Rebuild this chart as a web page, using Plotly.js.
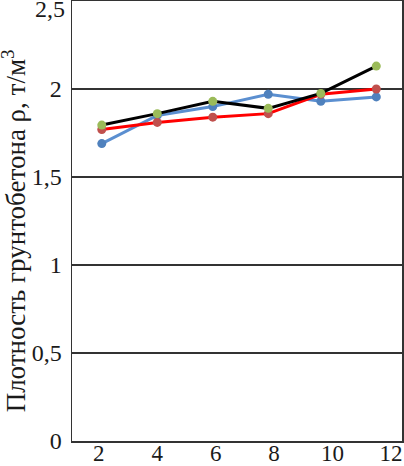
<!DOCTYPE html>
<html>
<head>
<meta charset="utf-8">
<script src="https://cdn.plot.ly/plotly-3.0.1.min.js"></script>
<style>
  html, body { margin: 0; padding: 0; background: #fff; }
  #plot { width: 404px; height: 466px; }
</style>
</head>
<body>
<div id="plot"></div>
<script>
// x positions of the points
let xVals = [2.1, 4, 5.9, 7.8, 9.6, 11.5];

// density series, t/m3
let blueVals = [1.69, 1.85, 1.90, 1.97, 1.93, 1.955];
let redVals = [1.77, 1.81, 1.84, 1.86, 1.97, 2.0];
let blackVals = [1.795, 1.86, 1.93, 1.89, 1.975, 2.13];

let xTicks = [2, 4, 6, 8, 10, 12];
let yTicks = [0, 0.5, 1, 1.5, 2];
let yTopTick = 2.5;

// blue series
let trace1 = {
    x: xVals,
    y: blueVals,
    mode: "lines+markers",
    line: {color: "#5b8fd0", width: 3},
    marker: {color: "#4f81bd", size: 9},
    showlegend: false
};

// red series
let trace2 = {
    x: xVals,
    y: redVals,
    mode: "lines+markers",
    line: {color: "#ff0000", width: 3},
    marker: {color: "#c0504d", size: 9},
    showlegend: false
};

// black series with green markers
let trace3 = {
    x: xVals,
    y: blackVals,
    mode: "lines+markers",
    line: {color: "#000000", width: 3},
    marker: {color: "#9bbb59", size: 9},
    showlegend: false
};

let data = [trace1, trace2, trace3];

let serif = "Liberation Serif, Times New Roman, serif";

let layout = {
    width: 404,
    height: 466,
    margin: {l: 72, r: 2, t: 1, b: 25},
    paper_bgcolor: "#ffffff",
    plot_bgcolor: "#ffffff",
    separators: ", ",
    font: {family: serif, color: "#1a1a1a", size: 24},
    xaxis: {
        range: [1.08, 12.38],
        tickvals: xTicks,
        showgrid: false,
        zeroline: false,
        showline: true,
        mirror: true,
        linecolor: "#333",
        linewidth: 1.5,
        ticks: "",
        ticklabelstandoff: -9,
        tickfont: {size: 23}
    },
    yaxis: {
        range: [0, 2.5],
        tickvals: yTicks,
        showgrid: true,
        gridcolor: "#333",
        gridwidth: 1.5,
        zeroline: false,
        showline: true,
        mirror: true,
        linecolor: "#333",
        linewidth: 1.5,
        ticks: "",
        ticklabelstandoff: 4,
        tickfont: {size: 24}
    },
    annotations: [
        {
            // top tick label sits just under the frame
            text: "2,5",
            xref: "paper", yref: "y",
            x: 0, y: yTopTick,
            xanchor: "right", yanchor: "top",
            xshift: -5, yshift: 7,
            showarrow: false,
            font: {family: serif, size: 24, color: "#1a1a1a"}
        },
        {
            // y-axis title
            text: "Плотность грунтобетона ρ, т/м<sup>3</sup>",
            xref: "paper", yref: "paper",
            x: -0.175, y: 0.477,
            xanchor: "center", yanchor: "middle",
            textangle: -90,
            showarrow: false,
            font: {family: serif, size: 27, color: "#1a1a1a"}
        }
    ]
};

Plotly.newPlot("plot", data, layout, {displayModeBar: false, staticPlot: true});
</script>
</body>
</html>
